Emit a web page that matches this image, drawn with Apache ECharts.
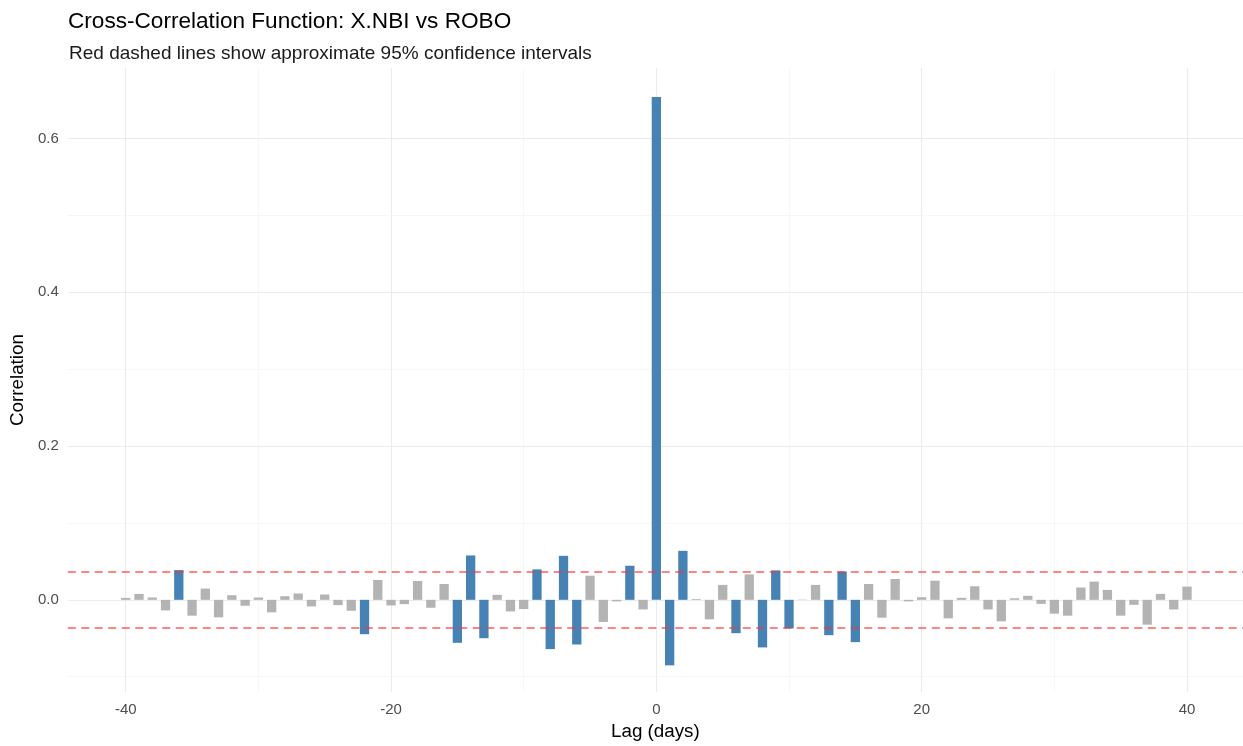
<!DOCTYPE html>
<html>
<head>
<meta charset="utf-8">
<script src="https://cdn.jsdelivr.net/npm/echarts@6/dist/echarts.min.js"></script>
<style>html,body{margin:0;padding:0;background:#fff}#c{width:1243px;height:746px}</style>
</head>
<body>
<div id="c"></div>
<script>
const lags = [];
for (let l = -40; l <= 40; l++) lags.push(l);
const correlations = [
  0.0025, 0.0077, 0.003, -0.0138, 0.0387, -0.0206, 0.0146, -0.0228, 0.006, -0.0077,
  0.003, -0.0163, 0.0047, 0.0082, -0.0086, 0.0069, -0.0069, -0.0142, -0.0447, 0.0258,
  -0.0073, -0.0056, 0.0245, -0.0103, 0.0206, -0.0559, 0.0577, -0.0499, 0.0065, -0.0151,
  -0.012, 0.0396, -0.0641, 0.0572, -0.0581, 0.0314, -0.0288, -0.002, 0.0443, -0.0125,
  0.654,
  -0.0852, 0.0637, 0.001, -0.0254, 0.0194, -0.0434, 0.0331, -0.0619, 0.0383, -0.0372,
  0.0004, 0.0194, -0.046, 0.0368, -0.055, 0.0206, -0.0232, 0.0271, -0.002, 0.0034,
  0.0249, -0.0241, 0.0026, 0.0176, -0.0125, -0.028, 0.002, 0.0052, -0.0052, -0.018,
  -0.0206, 0.016, 0.0237, 0.0129, -0.0206, -0.0065, -0.0323, 0.0077, -0.0125, 0.0172
];
const ciBound = 0.0366;
const xTickLabels = [-40, -20, 0, 20, 40];
const xMinorGrid = [-30, -10, 10, 30];
const yTickLabels = [0, 0.2, 0.4, 0.6];
const yMinorGrid = [-0.1, 0.1, 0.3, 0.5];

const chart = echarts.init(document.getElementById('c'), null, {renderer: 'canvas'});
const font = '"Liberation Sans", Arial, sans-serif';
const majorLine = {color: '#EBEBEB', width: 1.1, type: 'solid'};
const minorLine = {color: '#F2F2F2', width: 0.6, type: 'solid'};

const gridLines = [];
xTickLabels.forEach(v => gridLines.push({xAxis: v, lineStyle: majorLine}));
xMinorGrid.forEach(v => gridLines.push({xAxis: v, lineStyle: minorLine}));
yTickLabels.forEach(v => gridLines.push({yAxis: v, lineStyle: majorLine}));
yMinorGrid.forEach(v => gridLines.push({yAxis: v, lineStyle: minorLine}));

const barData = lags.map((l, i) => ({
  value: [l, correlations[i]],
  itemStyle: {color: Math.abs(correlations[i]) > ciBound ? '#4682B4' : '#B3B3B3'}
}));

chart.setOption({
  animation: false,
  backgroundColor: '#fff',
  title: [
    {text: 'Cross-Correlation Function: X.NBI vs ROBO', left: 63, top: 5,
     textStyle: {fontFamily: font, fontSize: 22.6, fontWeight: 'normal', color: '#000'}},
    {text: 'Red dashed lines show approximate 95% confidence intervals', left: 64, top: 39,
     textStyle: {fontFamily: font, fontSize: 19, fontWeight: 'normal', color: '#1a1a1a'}}
  ],
  grid: {left: 67, right: 0, top: 68, height: 629, containLabel: false},
  xAxis: {
    type: 'value', min: -44.37, max: 44.22,
    name: 'Lag (days)', nameLocation: 'middle', nameGap: 28,
    nameTextStyle: {fontFamily: font, fontSize: 18.8, color: '#000'},
    axisLine: {show: false}, axisTick: {show: false}, splitLine: {show: false},
    axisLabel: {customValues: xTickLabels, fontFamily: font, fontSize: 15, color: '#4D4D4D', margin: 10,
                formatter: v => String(v)}
  },
  yAxis: {
    type: 'value', min: -0.12, max: 0.6916,
    name: 'Correlation', nameLocation: 'middle', nameGap: 31, nameRotate: 90,
    nameTextStyle: {fontFamily: font, fontSize: 18.8, color: '#000'},
    axisLine: {show: false}, axisTick: {show: false}, splitLine: {show: false},
    axisLabel: {customValues: yTickLabels, fontFamily: font, fontSize: 15, color: '#4D4D4D', margin: 9,
                formatter: v => v.toFixed(1)}
  },
  series: [
    {type: 'scatter', data: [], z: 0, silent: true,
     markLine: {silent: true, symbol: 'none', precision: 4, label: {show: false}, data: gridLines, z: 0}},
    {type: 'bar', data: barData, barWidth: 9.3, z: 2, silent: true},
    {type: 'scatter', data: [], z: 3, silent: true,
     markLine: {silent: true, symbol: 'none', precision: 4, label: {show: false},
       lineStyle: {color: 'rgba(255,50,50,0.8)', width: 1.5, type: [8, 5.5]},
       data: [{yAxis: ciBound}, {yAxis: -ciBound}]}}
  ]
});
</script>
</body>
</html>
